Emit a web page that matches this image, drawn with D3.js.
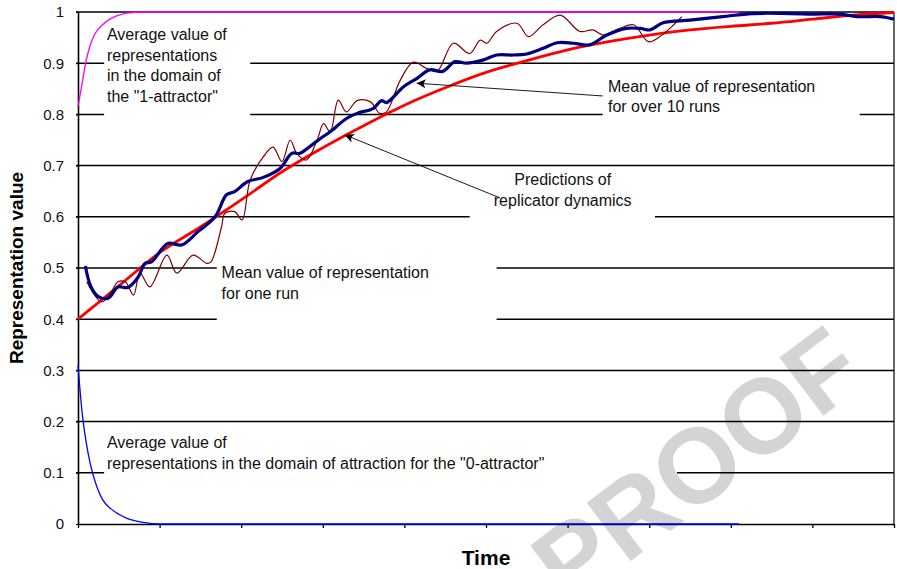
<!DOCTYPE html>
<html>
<head>
<meta charset="utf-8">
<script src="https://cdn.jsdelivr.net/npm/d3@7"></script>
<style>
  body { margin: 0; background: #fff; }
  svg { display: block; font-family: "Liberation Sans", Arial, sans-serif; }
</style>
</head>
<body>
<div id="chart"></div>
<script>
// y axis ticks
const yTicks = [0, 0.1, 0.2, 0.3, 0.4, 0.5, 0.6, 0.7, 0.8, 0.9, 1];
const xTicks = [0, 10, 20, 30, 40, 50, 60, 70, 80, 90, 100];

// "1-attractor" average
const oneAttrX = [0, 0.5, 1, 1.5, 2, 3, 4, 5, 6, 8, 81];
const oneAttrY = [0.815, 0.86, 0.905, 0.935, 0.955, 0.975, 0.987, 0.994, 0.998, 1, 1];

// "0-attractor" average
const zeroAttrX = [0, 0.5, 1, 1.5, 2, 2.5, 3, 4, 5, 6, 8, 10, 81];
const zeroAttrY = [0.31, 0.218, 0.16, 0.118, 0.088, 0.065, 0.048, 0.03, 0.019, 0.011, 0.003, 0, 0];

// replicator dynamics prediction
const predX = [0, 5, 10, 15, 20, 25, 30, 35, 40, 45, 50, 55, 60, 65, 70, 75, 80, 85, 90, 95, 100];
const predY = [0.40, 0.465, 0.53, 0.58, 0.633, 0.688, 0.735, 0.778, 0.818, 0.852, 0.882, 0.905, 0.926, 0.942, 0.955, 0.965, 0.972, 0.978, 0.986, 0.994, 0.999];

// mean over 10 runs
const tenX = [0.9, 1.6, 2.5, 3.7, 4.9, 6.1, 7.4, 8.2, 9.0, 11.0, 12.7, 14.7, 16.8, 18.2, 19.2, 20.8, 22.7, 24.8, 26.2, 27.2, 28.4, 29.7, 30.9, 32.9, 34.2, 36.2, 37.2, 37.8, 39.9, 41.5, 43.1, 44.7, 46.2, 47.6, 49.6, 51.3, 53.3, 55.0, 57.0, 58.7, 60.7, 62.7, 64.8, 67.2, 68.9, 70.1, 71.7, 75.0, 79.0, 82.7, 87.3, 90.1, 93.4, 95.5, 98.3, 100];
const tenY = [0.504, 0.463, 0.444, 0.441, 0.463, 0.462, 0.483, 0.509, 0.512, 0.548, 0.545, 0.571, 0.600, 0.643, 0.649, 0.669, 0.677, 0.695, 0.724, 0.724, 0.737, 0.753, 0.766, 0.792, 0.802, 0.812, 0.827, 0.823, 0.854, 0.870, 0.887, 0.884, 0.903, 0.900, 0.906, 0.916, 0.916, 0.918, 0.929, 0.940, 0.939, 0.936, 0.955, 0.968, 0.968, 0.965, 0.979, 0.984, 0.991, 0.997, 0.997, 0.996, 0.996, 0.991, 0.991, 0.986];

// mean for one run
const oneRunX = [1.07, 2.9, 4.1, 4.9, 5.8, 6.8, 7.6, 8.8, 10.9, 12.1, 14.1, 15.8, 16.3, 17.6, 18.0, 19.2, 20.1, 21.1, 22.7, 23.9, 25.0, 26.0, 26.8, 28.0, 29.3, 30.1, 30.9, 31.9, 32.9, 34.2, 35.8, 37.0, 37.8, 39.5, 41.1, 42.7, 44.0, 46.0, 48.0, 49.3, 50.1, 51.3, 53.8, 55.2, 57.0, 59.1, 61.5, 63.1, 64.4, 66.4, 68.1, 69.9, 71.3, 73.0, 74.0];
const oneRunY = [0.473, 0.434, 0.454, 0.473, 0.473, 0.447, 0.49, 0.463, 0.525, 0.49, 0.525, 0.509, 0.512, 0.581, 0.607, 0.610, 0.594, 0.672, 0.717, 0.736, 0.708, 0.750, 0.724, 0.711, 0.750, 0.782, 0.766, 0.828, 0.805, 0.827, 0.825, 0.802, 0.805, 0.867, 0.902, 0.89, 0.884, 0.939, 0.919, 0.945, 0.939, 0.962, 0.978, 0.952, 0.975, 0.994, 0.962, 0.965, 0.955, 0.968, 0.975, 0.942, 0.952, 0.975, 0.991];

// annotation texts
const notes = [
  {lines: ['Average value of', 'representations', 'in the domain of', 'the "1-attractor"'], x: 3.55, y: 0.945, anchor: 'start', box: [3.2, 21.1, 0.985, 0.79]},
  {lines: ['Mean value of representation', 'for over 10 runs'], x: 64.95, y: 0.844, anchor: 'start', box: [64.3, 95.8, 0.877, 0.785]},
  {lines: ['Predictions of', 'replicator dynamics'], x: 59.4, y: 0.662, anchor: 'middle', box: [48.0, 70.7, 0.695, 0.584]},
  {lines: ['Mean value of representation', 'for one run'], x: 17.6, y: 0.480, anchor: 'start', box: [17.0, 51.3, 0.525, 0.379]},
  {lines: ['Average value of', 'representations in the domain of attraction for the "0-attractor"'], x: 3.55, y: 0.148, anchor: 'start', box: [3.2, 73.4, 0.184, 0.076]}
];
const arrows = [
  {from: [64.3, 0.836], to: [41.5, 0.861]},
  {from: [51.7, 0.637], to: [32.7, 0.760]}
];

const width = 897, height = 569;
const margin = {top: 12, right: 3, bottom: 45, left: 78};
const innerW = width - margin.left - margin.right;
const innerH = height - margin.top - margin.bottom;

const svg = d3.select('#chart').append('svg')
  .attr('width', width)
  .attr('height', height);

const defs = svg.append('defs');

// watermark
svg.append('text')
  .attr('transform', 'translate(696,464) rotate(-37)')
  .attr('text-anchor', 'middle')
  .attr('dy', '0.36em')
  .style('font-size', '106px')
  .style('font-weight', 'bold')
  .style('fill', '#d4d4d6')
  .text('PROOF');

const g = svg.append('g')
  .attr('transform', `translate(${margin.left},${margin.top})`);

const x = d3.scaleLinear().domain([0, 100]).range([0, innerW]);
const y = d3.scaleLinear().domain([0, 1]).range([innerH, 0]);

// grid is cut where the notes sit
const mask = defs.append('mask')
  .attr('id', 'gridmask')
  .attr('maskUnits', 'userSpaceOnUse')
  .attr('x', -20).attr('y', -20)
  .attr('width', innerW + 40).attr('height', innerH + 40);
mask.append('rect')
  .attr('x', -20).attr('y', -20)
  .attr('width', innerW + 40).attr('height', innerH + 40)
  .style('fill', '#fff');
mask.selectAll('.notebox')
  .data(notes)
  .enter().append('rect')
  .attr('x', d => x(d.box[0]))
  .attr('y', d => y(d.box[2]))
  .attr('width', d => x(d.box[1]) - x(d.box[0]))
  .attr('height', d => y(d.box[3]) - y(d.box[2]))
  .style('fill', '#000');

g.append('g')
  .attr('mask', 'url(#gridmask)')
  .selectAll('.grid')
  .data(yTicks.slice(1))
  .enter().append('line')
  .attr('class', 'grid')
  .attr('x1', -2)
  .attr('x2', innerW)
  .attr('y1', d => y(d))
  .attr('y2', d => y(d))
  .style('stroke', '#000')
  .style('stroke-width', '1.5px');

// right border
g.append('line')
  .attr('x1', innerW).attr('x2', innerW)
  .attr('y1', 0).attr('y2', innerH)
  .style('stroke', '#000')
  .style('stroke-width', '1.2px');

const yAxis = g.append('g')
  .call(d3.axisLeft(y).tickValues(yTicks).tickFormat(d3.format('')).tickSize(2).tickPadding(12).tickSizeOuter(0));
yAxis.select('.domain').style('stroke-width', '1.6px');
yAxis.selectAll('text').style('font-size', '15px').style('fill', '#111').style('font-family', '"Liberation Sans", Arial, sans-serif');

const xAxis = g.append('g')
  .attr('transform', `translate(0,${innerH})`)
  .call(d3.axisBottom(x).tickValues(xTicks).tickFormat('').tickSize(4).tickSizeOuter(0));
xAxis.select('.domain').style('stroke-width', '1.7px');
xAxis.selectAll('line').style('stroke-width', '1.3px');

const line = d3.line()
  .x(d => x(d[0]))
  .y(d => y(d[1]))
  .curve(d3.curveMonotoneX);

const smooth = d3.line()
  .x(d => x(d[0]))
  .y(d => y(d[1]))
  .curve(d3.curveCatmullRom.alpha(0.5));

const series = [
  {xs: zeroAttrX, ys: zeroAttrY, color: '#0000ff', w: 1.3, gen: line},
  {xs: oneAttrX, ys: oneAttrY, color: '#ff00ff', w: 1.3, gen: line},
  {xs: predX, ys: predY, color: '#ff0000', w: 2.8, gen: line},
  {xs: oneRunX, ys: oneRunY, color: '#800000', w: 1.2, gen: smooth},
  {xs: tenX, ys: tenY, color: '#000080', w: 3.2, gen: smooth}
];

g.selectAll('.series')
  .data(series)
  .enter().append('path')
  .attr('class', 'series')
  .attr('d', d => d.gen(d.xs.map((v, i) => [v, d.ys[i]])))
  .style('fill', 'none')
  .style('stroke', d => d.color)
  .style('stroke-width', d => d.w + 'px')
  .style('stroke-linejoin', 'round');

// notes
const noteText = g.selectAll('.note')
  .data(notes)
  .enter().append('text')
  .attr('class', 'note')
  .attr('x', d => x(d.x))
  .attr('y', d => y(d.y))
  .attr('text-anchor', d => d.anchor)
  .style('font-size', '16px')
  .style('fill', '#111');

noteText.selectAll('tspan')
  .data(d => d.lines.map(l => ({l, d})))
  .enter().append('tspan')
  .attr('x', t => x(t.d.x))
  .attr('dy', (t, i) => i === 0 ? 0 : 20.5)
  .text(t => t.l);

// arrows
defs.append('marker')
  .attr('id', 'head')
  .attr('viewBox', '0 0 10 10')
  .attr('refX', 10).attr('refY', 5)
  .attr('markerWidth', 12).attr('markerHeight', 9)
  .attr('markerUnits', 'userSpaceOnUse')
  .attr('orient', 'auto')
  .append('path')
  .attr('d', 'M0,0L10,5L0,10L2.5,5Z')
  .style('fill', '#000');

g.selectAll('.arrow')
  .data(arrows)
  .enter().append('line')
  .attr('x1', d => x(d.from[0]))
  .attr('y1', d => y(d.from[1]))
  .attr('x2', d => x(d.to[0]))
  .attr('y2', d => y(d.to[1]))
  .style('stroke', '#000')
  .style('stroke-width', '0.9px')
  .attr('marker-end', 'url(#head)');

// axis titles
svg.append('text')
  .attr('transform', `translate(23,${margin.top + innerH / 2}) rotate(-90)`)
  .attr('text-anchor', 'middle')
  .style('font-size', '19px')
  .style('font-weight', 'bold')
  .text('Representation value');

svg.append('text')
  .attr('x', margin.left + innerW / 2)
  .attr('y', 565)
  .attr('text-anchor', 'middle')
  .style('font-size', '21px')
  .style('font-weight', 'bold')
  .text('Time');
</script>
</body>
</html>
